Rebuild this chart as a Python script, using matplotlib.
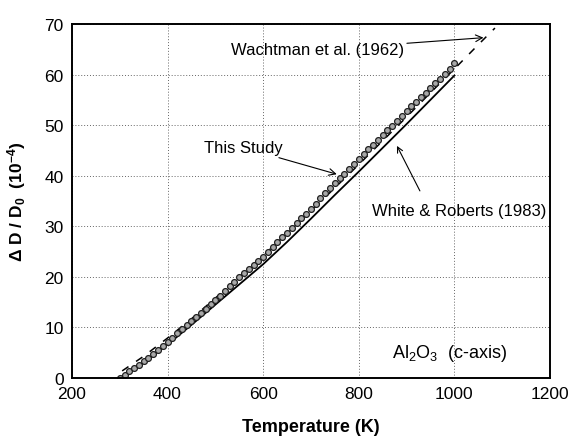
import matplotlib.pyplot as plt

plt.rcParams['font.family'] = ['Liberation Sans', 'DejaVu Sans']
plt.rcParams['mathtext.fontset'] = 'custom'
plt.rcParams['mathtext.rm'] = 'Liberation Sans'
plt.rcParams['mathtext.bf'] = 'Liberation Sans:bold'
plt.rcParams['mathtext.it'] = 'Liberation Sans:italic'

# This Study (dots)
temp_study = [300, 310, 320, 330, 340, 350, 360, 370, 380, 390,
              400, 410, 420, 430, 440, 450, 460, 470, 480, 490,
              500, 510, 520, 530, 540, 550, 560, 570, 580, 590,
              600, 610, 620, 630, 640, 650, 660, 670, 680, 690,
              700, 710, 720, 730, 740, 750, 760, 770, 780, 790,
              800, 810, 820, 830, 840, 850, 860, 870, 880, 890,
              900, 910, 920, 930, 940, 950, 960, 970, 980, 990, 1000]
dd_study = [0.0, 0.6, 1.3, 1.9, 2.6, 3.3, 4.0, 4.8, 5.6, 6.4,
            7.2, 8.0, 8.8, 9.6, 10.4, 11.2, 12.0, 12.9, 13.7, 14.6,
            15.5, 16.3, 17.2, 18.1, 19.0, 19.9, 20.7, 21.5, 22.3, 23.1,
            24.0, 24.9, 25.9, 26.8, 27.8, 28.7, 29.7, 30.6, 31.6, 32.5,
            33.5, 34.5, 35.5, 36.5, 37.5, 38.5, 39.5, 40.4, 41.4, 42.3,
            43.3, 44.2, 45.2, 46.1, 47.1, 48.0, 49.0, 49.9, 50.9, 51.8,
            52.8, 53.7, 54.6, 55.5, 56.4, 57.3, 58.3, 59.2, 60.2, 61.2, 62.2]

# White & Roberts (1983), solid line
temp_wr = [300, 350, 400, 450, 500, 550, 600, 650, 700, 750, 800, 850, 900, 950, 1000]
dd_wr = [0.0, 3.0, 6.6, 10.5, 14.5, 18.5, 22.5, 26.9, 31.5, 36.2, 40.8, 45.5, 50.2, 55.0, 59.8]

# Wachtman et al. (1962), dashed line
temp_wa = [305, 350, 400, 450, 500, 550, 600, 650, 700, 750, 800, 850, 900, 950, 1000, 1050, 1085]
dd_wa = [1.4, 4.3, 7.9, 11.7, 15.8, 20.0, 24.2, 28.6, 33.0, 37.6, 42.2, 46.9, 51.6, 56.4, 61.1, 65.9, 69.2]

fig = plt.figure(figsize=(5.74, 4.39), dpi=100)
ax = fig.add_axes([0.1254, 0.1367, 0.8326, 0.8063])

ax.plot(temp_wr, dd_wr, color='black', lw=1.3)
ax.plot(temp_wa, dd_wa, color='black', lw=1.1, linestyle=(0, (5, 6)))
ax.plot(temp_study, dd_study, linestyle='none', marker='o', ms=4.2,
        mfc='#a8a8a8', mec='#202020', mew=0.9)

ax.set_xlim(200, 1200)
ax.set_ylim(0, 70)
ax.set_xticks([200, 400, 600, 800, 1000, 1200])
ax.set_yticks([0, 10, 20, 30, 40, 50, 60, 70])
ax.tick_params(length=0, labelsize=12.5, pad=6)
ax.grid(True, linestyle=(0, (1, 2)), color='#666666', lw=0.7)
for s in ax.spines.values():
    s.set_linewidth(1.4)

ax.set_xlabel('Temperature (K)', fontsize=13, fontweight='bold', labelpad=12)
ax.set_ylabel(r'$\mathbf{\Delta}$ D / D$_\mathbf{0}$  (10$^\mathbf{-4}$)',
              fontsize=12.5, fontweight='bold', labelpad=12)

arrow = dict(arrowstyle='->', color='black', lw=0.8, shrinkA=0, shrinkB=0)
ax.annotate('Wachtman et al. (1962)', xy=(1061, 67.3), xytext=(895, 64.9),
            fontsize=12, ha='right', va='center', arrowprops=arrow)
ax.annotate('This Study', xy=(754, 40.3), xytext=(640, 45.6),
            fontsize=12, ha='right', va='center', arrowprops=arrow)
ax.annotate('', xy=(880, 45.9), xytext=(928, 37.0), arrowprops=arrow)
ax.text(827, 33.1, 'White & Roberts (1983)', fontsize=12, ha='left', va='center')
ax.text(869, 5.1, r'Al$_2$O$_3$  (c-axis)', fontsize=13, ha='left', va='center')

fig.savefig('out.png', dpi=100)
